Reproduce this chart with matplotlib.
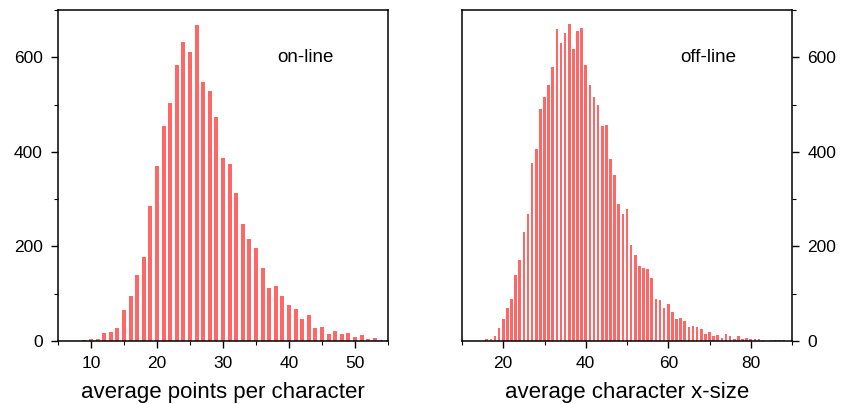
import numpy as np
import matplotlib.pyplot as plt
from matplotlib.ticker import MultipleLocator

plt.rcParams['font.family'] = ['Liberation Sans', 'DejaVu Sans']

# on-line: average points per character
online_x = np.arange(9, 56)
online_counts = [2, 4, 4, 17, 19, 28, 66, 95, 140, 178, 285, 370,
                 455, 503, 583, 633, 611, 669, 547, 529, 474, 386, 375, 312,
                 248, 216, 197, 155, 112, 117, 95, 76, 68, 47, 55, 28,
                 30, 15, 21, 15, 17, 8, 13, 4, 6, 2, 2]

# off-line: average character x-size
offline_x = np.arange(14, 90)
offline_counts = [1, 1, 4, 4, 11, 28, 47, 70, 89, 140, 172, 231,
                  269, 377, 407, 491, 517, 541, 579, 660, 630, 651, 670, 617,
                  655, 662, 583, 541, 515, 500, 454, 456, 384, 352, 290, 269,
                  280, 204, 182, 159, 155, 153, 134, 89, 87, 70, 78, 61,
                  47, 49, 42, 30, 32, 30, 25, 15, 19, 11, 13, 6,
                  15, 11, 4, 11, 4, 6, 4, 4, 4, 2, 0, 2,
                  2, 2, 2, 0]

bar_color = '#ff6666'

fig = plt.figure(figsize=(8.43, 4.04), dpi=100)
ax1 = fig.add_axes([58 / 843, 63 / 404, 330 / 843, 331 / 404])
ax2 = fig.add_axes([462 / 843, 63 / 404, 330 / 843, 331 / 404])

ax1.bar(online_x, online_counts, width=0.6, color=bar_color)
ax1.set_xlim(5, 55)
ax1.set_ylim(0, 700)
ax1.xaxis.set_major_locator(MultipleLocator(10))
ax1.xaxis.set_minor_locator(MultipleLocator(5))
ax1.yaxis.set_major_locator(MultipleLocator(200))
ax1.yaxis.set_minor_locator(MultipleLocator(100))
ax1.set_xlabel('average points per character', fontsize=16, labelpad=8)
ax1.text(0.75, 0.855, 'on-line', transform=ax1.transAxes, fontsize=13.5,
         ha='center', va='center')

ax2.bar(offline_x, offline_counts, width=0.65, color=bar_color)
ax2.set_xlim(10, 90)
ax2.set_ylim(0, 700)
ax2.xaxis.set_major_locator(MultipleLocator(20))
ax2.xaxis.set_minor_locator(MultipleLocator(10))
ax2.yaxis.set_major_locator(MultipleLocator(200))
ax2.yaxis.set_minor_locator(MultipleLocator(100))
ax2.yaxis.tick_right()
ax2.set_xlabel('average character x-size', fontsize=16, labelpad=8)
ax2.text(0.745, 0.855, 'off-line', transform=ax2.transAxes, fontsize=13.5,
         ha='center', va='center')

for ax in (ax1, ax2):
    ax.tick_params(which='major', direction='out', length=5, width=1,
                   labelsize=12.5, pad=6)
    ax.tick_params(which='minor', direction='out', length=3, width=0.8)
    for s in ax.spines.values():
        s.set_linewidth(1.1)

fig.savefig('out.png', dpi=100)
